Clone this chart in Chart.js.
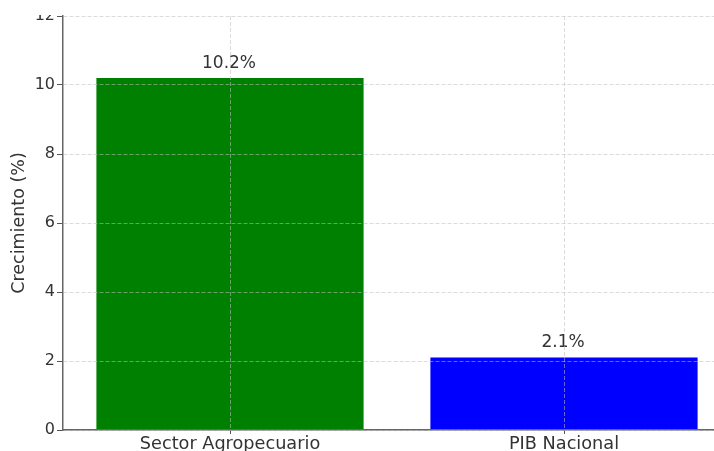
<!DOCTYPE html>
<html>
<head>
<meta charset="utf-8">
<script src="https://cdn.jsdelivr.net/npm/chart.js@4.4.1/dist/chart.umd.min.js"></script>
<style>
  html, body { margin: 0; padding: 0; background: #fff; overflow: hidden; }
  #wrap { position: absolute; left: 0; top: -30px; width: 760px; height: 500px; }
</style>
</head>
<body>
<div id="wrap"><canvas id="myChart"></canvas></div>
<script>
const categories = ['Sector Agropecuario', 'PIB Nacional'];
const growth = [10.2, 2.1];
const barColors = ['#008000', '#0000ff'];
const yTicks = [0, 2, 4, 6, 8, 10, 12];

const fontFamily = '"DejaVu Sans", sans-serif';

// write value labels above each bar
const valueLabels = {
  id: 'valueLabels',
  afterDatasetsDraw(chart) {
    const ctx = chart.ctx;
    const meta = chart.getDatasetMeta(0);
    ctx.save();
    ctx.font = '17px ' + fontFamily;
    ctx.fillStyle = '#333';
    ctx.textAlign = 'center';
    ctx.textBaseline = 'bottom';
    meta.data.forEach((bar, i) => {
      ctx.fillText(growth[i].toFixed(1) + '%', bar.x - 1, bar.y - 6);
    });
    ctx.restore();
  },
};

// the original picture is cut just at the top of the plot
const cropTop = {
  id: 'cropTop',
  afterDraw(chart) {
    const ctx = chart.ctx;
    ctx.save();
    ctx.fillStyle = '#fff';
    ctx.fillRect(0, 0, chart.width, chart.chartArea.top - 1);
    ctx.restore();
  },
};

const config = {
  type: 'bar',
  data: {
    labels: categories,
    datasets: [
      {
        data: growth,
        backgroundColor: barColors,
        borderWidth: 0,
        barPercentage: 0.8,
        categoryPercentage: 1,
      },
    ],
  },
  options: {
    responsive: true,
    maintainAspectRatio: false,
    animation: false,
    devicePixelRatio: 1,
    layout: { padding: { top: 46, right: 29, left: 0, bottom: 0 } },
    plugins: { legend: { display: false }, tooltip: { enabled: false } },
    scales: {
      x: {
        offset: true,
        grid: {
          offset: false,
          z: 1,
          color: 'rgba(190,190,190,0.55)',
          tickColor: '#555',
          tickBorderDash: [],
          tickLength: 4,
        },
        border: { color: '#666', width: 1.5, dash: [4, 2], z: 2 },
        ticks: { color: '#333', font: { size: 17.7, family: fontFamily }, padding: 0 },
        afterFit(scale) { scale.height = 40; },
      },
      y: {
        min: 0,
        max: 12,
        afterBuildTicks(scale) { scale.ticks = yTicks.map(v => ({ value: v })); },
        grid: {
          z: 1,
          color: 'rgba(190,190,190,0.55)',
          tickColor: '#555',
          tickBorderDash: [],
          tickLength: 6,
        },
        border: { color: '#666', width: 1.5, dash: [4, 2], z: 2 },
        ticks: { color: '#333', font: { size: 16, family: fontFamily }, padding: 2 },
        title: {
          display: true,
          text: 'Crecimiento (%)',
          color: '#333',
          font: { size: 17.5, family: fontFamily },
          padding: { top: 9, bottom: 0 },
        },
        afterFit(scale) { scale.width = 63; },
      },
    },
  },
  plugins: [valueLabels, cropTop],
};

const myChart = new Chart(document.getElementById('myChart'), config);
</script>
</body>
</html>
